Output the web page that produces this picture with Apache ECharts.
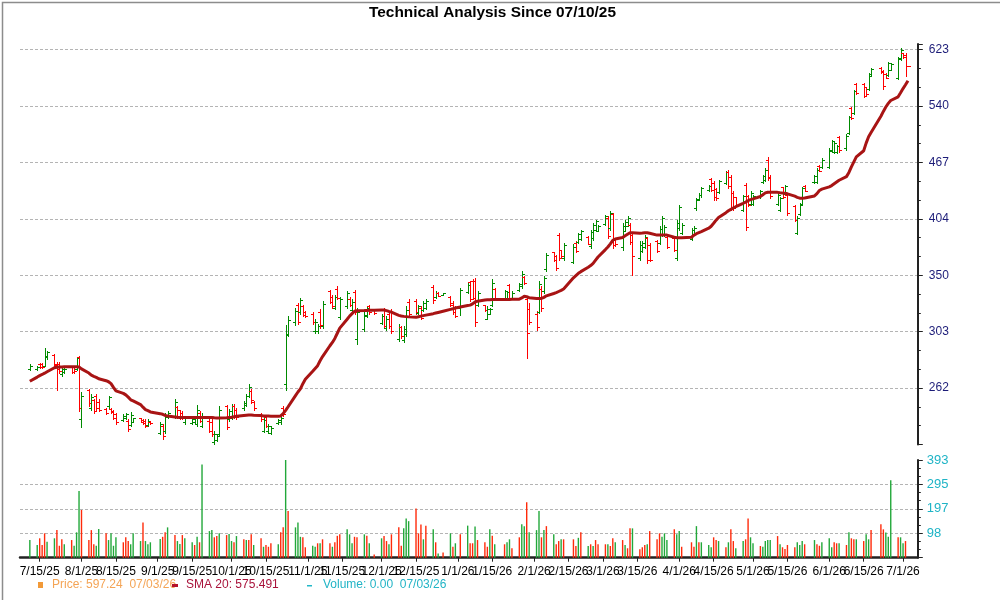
<!DOCTYPE html>
<html>
<head>
<meta charset="utf-8">
<title>Technical Analysis Since 07/10/25</title>
<script src="https://cdn.jsdelivr.net/npm/echarts@6/dist/echarts.min.js"></script>
<style>
  html, body { margin: 0; padding: 0; background: #fff; }
  #chart { width: 1000px; height: 600px; }
</style>
</head>
<body>
<div id="chart"></div>
<script>
// trading calendar: weekdays from first to last bar, minus market holidays
const firstDay = [2025, 7, 11];
const lastDay = [2026, 7, 3];
const holidays = ['2025-09-01', '2025-11-27', '2025-12-25', '2026-01-01', '2026-01-19',
  '2026-02-16', '2026-04-03', '2026-05-25', '2026-06-19'];

// [open, high, low, close], one row per week
const priceBars = [
  [275.0, 278.5, 274.3, 277.0],
  [275.2, 277.2, 274.6, 276.5], [279.0, 279.4, 276.1, 276.8], [278.5, 279.6, 276.1, 276.3], [277.6, 290.0, 277.0, 284.8], [283.5, 288.0, 282.5, 287.0],
  [285.0, 285.6, 276.8, 278.0], [279.0, 280.0, 260.7, 275.0], [279.0, 280.0, 272.5, 274.0], [271.5, 276.0, 270.0, 275.0], [273.0, 275.5, 272.5, 275.0],
  [276.5, 277.0, 272.5, 273.0], [277.0, 277.5, 272.5, 273.5], [275.0, 284.0, 274.6, 283.0], [283.5, 284.5, 247.0, 249.0], [242.0, 259.5, 237.4, 256.5],
  [261.0, 261.6, 250.3, 252.0], [249.0, 258.0, 247.7, 256.0], [254.0, 254.6, 246.0, 247.0], [257.0, 258.0, 247.0, 249.0], [253.0, 254.6, 247.0, 248.0],
  [248.5, 249.0, 245.0, 246.0], [250.0, 256.8, 249.2, 256.0], [248.5, 249.2, 246.0, 246.5], [247.0, 248.0, 242.0, 243.0], [245.0, 246.0, 239.0, 240.0],
  [241.5, 245.0, 240.8, 244.0], [242.5, 246.0, 242.0, 245.0], [241.0, 242.0, 235.0, 236.0], [238.5, 246.2, 237.7, 244.5], [240.5, 243.0, 240.0, 242.5],
  [242.5, 243.0, 240.0, 240.5], [241.5, 242.3, 239.0, 239.5], [241.0, 242.0, 237.0, 238.0], [238.5, 242.0, 238.0, 241.0], [240.5, 241.0, 239.0, 239.5],
  [233.5, 240.0, 232.7, 239.0], [238.0, 239.0, 229.8, 231.5], [235.0, 245.8, 233.7, 244.0], [243.5, 247.0, 243.0, 246.0],
  [244.0, 255.0, 243.0, 253.0], [249.5, 250.3, 243.0, 244.0], [247.5, 248.0, 242.0, 243.0], [246.0, 247.0, 242.0, 242.5], [240.0, 244.0, 239.0, 243.0],
  [239.5, 243.0, 239.0, 242.0], [240.0, 244.0, 239.0, 243.0], [239.0, 250.7, 238.0, 248.0], [246.0, 247.0, 240.0, 241.0], [238.0, 246.0, 237.0, 244.0],
  [241.0, 242.0, 234.0, 235.0], [240.0, 242.0, 232.0, 233.0], [228.0, 234.7, 227.0, 233.0], [229.5, 232.7, 228.7, 232.0], [233.0, 250.3, 232.0, 248.0],
  [250.0, 250.7, 235.8, 237.0], [242.0, 248.5, 241.0, 247.0], [243.0, 251.4, 242.0, 250.0], [250.5, 251.4, 243.0, 244.0], [248.0, 249.0, 242.0, 243.5],
  [249.0, 253.5, 248.0, 252.5], [251.0, 258.0, 250.3, 257.0], [257.0, 264.5, 256.0, 263.0], [260.0, 261.2, 252.5, 254.0], [253.0, 253.5, 248.0, 249.0],
  [245.0, 246.0, 241.0, 242.0], [235.0, 243.0, 234.0, 241.5], [243.5, 244.3, 237.0, 238.0], [234.5, 238.8, 233.8, 237.5], [233.5, 237.8, 232.7, 236.5],
  [239.5, 242.0, 239.0, 241.5], [240.0, 244.0, 239.0, 243.0], [249.0, 250.3, 244.0, 245.0], [265.0, 308.0, 261.0, 300.0], [301.0, 315.0, 299.0, 312.0],
  [310.0, 321.5, 308.0, 319.0], [324.0, 325.7, 308.4, 310.0], [318.0, 330.0, 316.7, 328.0], [323.0, 324.5, 315.2, 316.0], [318.5, 319.4, 314.0, 315.0],
  [317.0, 318.0, 308.4, 310.0], [303.0, 312.3, 302.0, 310.0], [303.0, 308.4, 302.0, 307.0], [318.0, 320.4, 305.7, 308.0], [307.0, 327.3, 305.7, 325.0],
  [336.0, 337.2, 326.0, 327.0], [331.0, 332.8, 321.5, 323.0], [322.0, 332.8, 320.4, 331.0], [338.0, 340.0, 328.7, 330.0], [314.0, 330.5, 312.3, 329.0],
  [323.0, 335.8, 321.5, 334.0], [329.5, 330.5, 323.0, 324.0], [320.0, 329.0, 319.0, 327.0], [335.0, 337.2, 316.5, 318.0], [297.0, 322.0, 293.0, 318.0],
  [305.0, 318.0, 303.5, 316.0], [315.0, 323.0, 314.0, 322.0], [323.5, 324.5, 316.5, 318.0], [320.0, 320.4, 316.5, 317.5],
  [309.5, 316.5, 308.4, 315.0], [320.0, 321.5, 305.7, 307.0], [305.5, 315.2, 304.4, 313.0], [317.0, 318.0, 305.7, 307.0], [319.0, 320.4, 301.8, 303.0],
  [297.0, 308.4, 295.5, 306.0], [306.0, 307.0, 298.0, 299.5], [296.0, 307.0, 294.7, 305.0], [301.0, 323.0, 299.2, 320.0], [327.0, 328.7, 315.2, 317.0],
  [327.5, 328.7, 316.5, 318.0], [317.5, 324.5, 316.5, 323.0], [322.0, 323.0, 312.3, 313.5], [320.0, 327.3, 319.4, 326.0], [321.5, 328.7, 320.4, 327.5],
  [339.0, 340.7, 326.0, 328.0], [331.0, 335.8, 330.2, 334.5], [334.5, 335.0, 331.5, 332.0], [332.5, 334.4, 332.3, 334.0],
  [331.0, 331.5, 323.0, 324.0], [326.0, 327.3, 316.5, 318.0], [322.0, 323.0, 314.0, 315.0], [322.0, 338.6, 316.0, 336.5],
  [335.0, 342.8, 334.2, 341.5], [344.0, 345.0, 327.3, 329.0], [345.0, 346.0, 328.7, 330.0], [345.0, 347.4, 307.0, 310.0], [324.0, 336.0, 323.0, 334.0],
  [324.0, 324.5, 319.4, 320.0], [313.0, 323.0, 312.3, 321.0], [317.0, 321.5, 316.5, 320.5], [324.0, 346.0, 323.0, 343.0], [338.0, 338.6, 328.7, 330.0],
  [329.5, 337.2, 328.7, 336.0], [329.5, 335.8, 328.7, 335.0], [341.0, 341.6, 328.7, 330.0], [329.5, 335.8, 328.7, 334.0],
  [337.0, 343.0, 336.0, 342.0], [340.0, 353.3, 338.6, 351.0], [348.0, 349.0, 341.6, 343.0], [329.0, 330.0, 283.2, 302.0], [321.0, 326.0, 308.4, 310.0],
  [317.0, 319.4, 304.4, 306.0], [318.0, 344.4, 317.5, 342.0], [338.0, 340.0, 319.4, 322.0], [336.0, 349.0, 334.4, 347.0], [355.0, 370.0, 353.3, 368.0],
  [371.0, 371.6, 362.5, 364.0], [367.0, 368.4, 354.9, 356.0], [388.0, 390.0, 364.0, 366.0], [373.0, 373.5, 365.6, 367.0], [366.0, 380.0, 364.0, 378.0],
  [362.0, 378.4, 361.0, 376.0], [380.0, 381.5, 370.8, 372.0], [381.0, 390.0, 380.2, 389.0], [384.0, 393.0, 383.1, 392.0],
  [386.0, 386.5, 378.4, 379.0], [377.0, 393.0, 375.3, 391.0], [385.0, 399.8, 383.1, 398.0], [393.0, 403.2, 391.3, 402.0], [392.0, 398.0, 391.3, 397.0],
  [399.0, 408.4, 398.0, 407.0], [405.0, 406.6, 384.7, 387.0], [395.0, 411.8, 393.0, 410.0], [409.0, 410.0, 375.0, 378.0], [383.0, 385.0, 377.0, 379.0],
  [376.0, 399.8, 373.5, 397.0], [392.0, 403.2, 391.3, 401.0], [397.0, 406.6, 396.3, 405.0], [398.0, 399.8, 378.4, 381.0], [388.0, 390.0, 350.4, 367.0],
  [366.0, 381.5, 364.0, 378.0], [372.0, 381.5, 370.8, 380.0], [376.0, 387.6, 375.0, 386.0], [385.0, 386.0, 361.0, 364.0], [378.0, 380.0, 362.5, 364.0],
  [382.0, 383.1, 370.8, 372.0], [380.0, 396.3, 378.4, 394.0], [388.0, 406.6, 386.5, 405.0], [388.0, 398.0, 386.5, 396.0], [386.0, 387.6, 375.0, 376.0],
  [385.0, 386.0, 372.0, 373.5], [366.0, 403.2, 364.0, 400.0], [395.0, 419.0, 393.0, 417.0], [390.0, 399.8, 388.5, 398.0],
  [384.0, 394.7, 383.1, 393.0], [389.0, 396.3, 388.5, 395.0], [415.0, 426.0, 413.6, 424.0], [425.0, 431.5, 424.3, 430.0], [429.0, 438.9, 427.8, 437.0],
  [434.5, 440.7, 433.5, 439.5], [447.0, 448.5, 433.5, 435.0], [443.0, 444.9, 424.3, 427.0], [436.0, 437.2, 424.3, 426.0], [433.0, 446.6, 431.5, 445.0],
  [443.0, 456.2, 441.5, 455.0], [456.0, 458.1, 437.2, 439.0], [450.0, 452.3, 413.6, 417.0], [432.0, 433.5, 413.6, 415.0], [427.0, 427.8, 417.1, 418.0],
  [413.0, 429.6, 411.8, 428.0], [441.0, 443.1, 393.0, 396.0], [428.0, 429.6, 417.1, 419.0], [420.0, 433.5, 418.9, 432.0], [420.0, 429.6, 418.9, 428.0],
  [427.0, 435.3, 426.0, 434.0], [444.0, 452.3, 443.1, 451.0], [446.0, 460.0, 444.9, 458.0], [470.0, 473.7, 446.6, 449.0], [450.0, 452.3, 426.0, 428.0],
  [420.0, 431.5, 418.9, 430.0], [413.0, 427.8, 411.8, 426.0], [438.0, 438.9, 426.0, 427.0], [431.0, 440.7, 429.6, 439.0], [430.0, 431.5, 408.4, 410.0],
  [418.0, 418.9, 401.5, 403.0], [390.0, 406.6, 388.5, 405.0], [409.0, 420.7, 408.4, 419.0], [420.0, 438.9, 418.9, 437.0], [440.0, 440.7, 433.5, 434.0],
  [444.0, 452.3, 443.1, 451.0], [444.0, 460.0, 443.1, 458.0], [463.0, 463.9, 456.2, 457.0], [461.0, 472.0, 460.0, 470.0],
  [461.0, 484.0, 460.0, 482.0], [481.0, 494.6, 480.0, 493.0], [479.0, 492.5, 477.8, 491.0], [479.0, 488.3, 477.8, 487.0], [498.0, 499.7, 480.0, 482.0],
  [484.0, 501.8, 482.2, 500.0], [503.0, 525.8, 501.8, 524.0], [536.0, 537.5, 521.9, 523.0], [530.0, 562.0, 528.6, 560.0], [570.0, 571.8, 556.3, 558.0],
  [570.0, 571.8, 551.6, 553.0], [566.0, 566.8, 554.7, 556.0], [563.0, 587.0, 562.0, 585.0], [583.0, 594.5, 581.9, 593.0],
  [595.0, 596.6, 586.4, 588.0], [590.0, 591.5, 564.0, 567.0], [585.0, 586.4, 579.0, 580.0], [584.0, 604.0, 581.9, 602.0], [592.0, 601.6, 591.5, 600.0],
  [580.0, 612.0, 578.0, 610.0], [608.0, 625.0, 606.8, 622.0], [617.0, 617.3, 609.5, 611.0], [615.0, 617.3, 581.9, 597.24], [597.24, 597.24, 597.24, 597.24]
];

const sma20 = [
  266.6,
  269.5, 270.5, 271.3, 272.2, 273.2,
  276.0, 276.3, 276.5, 276.6, 276.7,
  276.8, 276.8, 276.7, 276.5, 275.2,
  272.3, 270.8, 270.0, 269.3, 268.3,
  267.0, 266.3, 265.0, 262.5, 260.2,
  258.5, 257.5, 256.0, 254.3, 253.6,
  251.2, 249.5, 248.0, 247.3, 246.5,
  245.4, 245.0, 244.3, 243.9,
  243.3, 243.1, 243.0, 243.0, 243.0,
  243.0, 243.0, 243.0, 243.0, 243.0,
  243.0, 243.0, 242.8, 242.7, 242.7,
  242.8, 243.0, 243.2, 243.5, 243.8,
  244.3, 244.4, 244.5, 244.5, 244.4,
  244.2, 244.0, 244.0, 243.9, 243.8,
  243.8, 244.0, 245.5, 247.5, 249.8,
  257.0, 259.4, 261.5, 265.0, 268.0,
  273.5, 275.5, 277.5, 281.0, 284.0,
  292.0, 294.5, 297.5, 301.5, 305.5,
  312.5, 315.0, 317.0, 319.0, 319.4,
  319.5, 319.6, 319.7, 319.8,
  320.0, 320.0, 319.5, 318.8, 318.2,
  315.6, 315.1, 314.8, 314.6, 314.4,
  314.0, 314.5, 315.0, 315.4, 315.8,
  317.0, 317.5, 318.0, 319.0,
  320.5, 321.0, 321.6, 322.5,
  323.7, 324.0, 325.0, 326.6, 327.3,
  328.2, 328.4, 328.5, 328.6, 328.7,
  328.7, 328.8, 328.8, 328.9,
  329.0, 330.0, 331.4, 331.0, 330.2,
  329.6, 329.6, 329.6, 330.5, 331.8,
  333.8, 334.5, 335.5, 336.5, 337.7,
  347.5, 349.5, 351.5, 353.0,
  357.0, 358.5, 360.5, 363.5, 366.5,
  373.5, 376.0, 379.0, 382.5, 383.8,
  385.3, 387.0, 388.5, 390.0, 390.0,
  389.5, 389.7, 390.0, 390.0, 389.5,
  387.6, 387.6, 387.6, 387.6, 387.6,
  385.5, 385.0, 385.0, 385.0,
  385.5, 387.5, 389.0, 390.0, 391.0,
  394.5, 396.5, 399.5, 402.7, 405.5,
  410.5, 412.5, 414.0, 415.5, 416.8,
  420.5, 421.8, 423.3, 424.5, 425.3,
  427.9, 429.8, 431.8, 432.6, 432.6,
  432.4, 432.0, 431.7, 431.5, 430.8,
  428.2, 427.0, 426.0, 426.0, 426.3,
  428.5, 431.0, 434.5, 436.0,
  438.6, 440.0, 442.0, 444.0, 446.0,
  450.2, 455.0, 461.5, 467.5, 473.5,
  481.0, 490.5, 498.5, 504.0,
  525.5, 532.0, 538.0, 543.0, 547.0,
  552.2, 558.0, 564.0, 569.5, 575.491
];

const volume = [
  71,
  51, 78, 51, 98, 64,
  78, 111, 48, 74, 54,
  71, 48, 102, 268, 192,
  71, 111, 54, 48, 115,
  98, 71, 98, 48, 82,
  62, 82, 67, 54, 98,
  67, 142, 67, 54, 62,
  75, 84, 102, 122,
  91, 67, 55, 91, 78,
  62, 51, 84, 62, 375,
  107, 111, 82, 87, 98,
  91, 95, 67, 62, 87,
  74, 71, 71, 94, 51,
  78, 44, 51, 44, 58,
  54, 102, 122, 393, 188,
  122, 142, 84, 82, 42,
  48, 44, 58, 58, 74,
  58, 44, 62, 88, 94,
  114, 94, 58, 84, 82,
  94, 88, 58, 13,
  78, 87, 67, 54, 94,
  122, 48, 118, 158, 147,
  198, 98, 134, 74, 129,
  114, 62, 17, 21,
  98, 44, 58, 94,
  129, 58, 58, 125, 71,
  62, 44, 114, 88, 54,
  54, 62, 74, 38,
  82, 135, 127, 223, 102,
  111, 188, 82, 111, 127,
  94, 54, 67, 74, 74,
  74, 47, 80, 102,
  47, 54, 47, 71, 54,
  54, 54, 47, 78, 62,
  71, 51, 38, 118, 118,
  34, 42, 51, 54, 107,
  74, 98, 84, 98, 71,
  114, 94, 107, 44,
  62, 44, 127, 62, 62,
  51, 42, 82, 71, 67,
  42, 62, 114, 67, 38,
  67, 74, 158, 82, 58,
  47, 44, 67, 71, 71,
  87, 54, 42, 35, 51,
  42, 62, 51, 67, 54,
  71, 54, 48, 62,
  78, 42, 62, 58, 58,
  51, 102, 78, 74, 74,
  67, 94, 74, 111,
  135, 114, 101, 84, 312,
  82, 82, 58, 67, 0
];

// 1 = green volume bar, 0 = red
const volumeUp = [
  1,
  1, 0, 0, 0, 1,
  1, 0, 0, 0, 1,
  0, 1, 1, 1, 0,
  0, 0, 0, 1, 1,
  0, 1, 1, 1, 1,
  0, 0, 0, 1, 1,
  1, 0, 1, 1, 1,
  1, 0, 0, 1,
  0, 1, 1, 0, 1,
  1, 0, 1, 0, 1,
  1, 1, 0, 0, 1,
  0, 1, 1, 0, 1,
  0, 1, 0, 0, 1,
  0, 1, 0, 0, 0,
  1, 0, 0, 1, 0,
  1, 1, 1, 0, 0,
  1, 1, 0, 1, 0,
  0, 1, 0, 0, 0,
  1, 1, 1, 0, 0,
  1, 0, 1, 0,
  1, 0, 0, 1, 0,
  0, 0, 1, 1, 1,
  0, 0, 0, 1, 0,
  1, 0, 1, 0,
  1, 0, 1, 0,
  1, 0, 0, 1, 0,
  0, 0, 1, 0, 1,
  0, 1, 1, 0,
  0, 1, 1, 0, 1,
  1, 1, 0, 1, 0,
  1, 0, 0, 1, 0,
  0, 0, 1, 0,
  1, 0, 1, 0, 0,
  0, 1, 0, 0, 1,
  0, 1, 0, 0, 1,
  0, 0, 0, 1, 0,
  0, 0, 1, 1, 1,
  0, 1, 1, 0,
  0, 0, 1, 0, 1,
  1, 1, 0, 0, 1,
  0, 1, 0, 0, 1,
  1, 0, 0, 1, 1,
  0, 1, 1, 1, 1,
  0, 1, 0, 0, 0,
  0, 1, 1, 1, 0,
  1, 0, 0, 1,
  1, 1, 0, 0, 1,
  0, 1, 0, 0, 1,
  0, 1, 1, 0,
  0, 0, 1, 1, 1,
  0, 1, 1, 0, 0
];

const yTickLabels = [262, 303, 350, 404, 467, 540, 623];
const volTickLabels = [98, 197, 295, 393];
const xTickLabels = ['7/15/25', '8/1/25', '8/15/25', '9/1/25', '9/15/25', '10/1/25', '10/15/25',
  '11/1/25', '11/15/25', '12/1/25', '12/15/25', '1/1/26', '1/15/26', '2/1/26', '2/15/26', '3/1/26',
  '3/15/26', '4/1/26', '4/15/26', '5/1/26', '5/15/26', '6/1/26', '6/15/26', '7/1/26'];

const upColor = '#008a00';
const downColor = '#ff0000';
const volUpColor = '#22a83a';
const volDownColor = '#ff2a0a';

function pad(n) { return n < 10 ? '0' + n : '' + n; }
function dayKey(d) { return d.getFullYear() + '-' + pad(d.getMonth() + 1) + '-' + pad(d.getDate()); }
function mdy(s) {
  const p = s.split('/').map(Number);
  return new Date(2000 + p[2], p[0] - 1, p[1]).getTime();
}

const dates = [];
for (let d = new Date(firstDay[0], firstDay[1] - 1, firstDay[2]);
     d <= new Date(lastDay[0], lastDay[1] - 1, lastDay[2]);
     d.setDate(d.getDate() + 1)) {
  const dow = d.getDay();
  if (dow !== 0 && dow !== 6 && holidays.indexOf(dayKey(d)) < 0) dates.push(d.getTime());
}
if (dates.length !== priceBars.length || dates.length !== sma20.length ||
    dates.length !== volume.length || dates.length !== volumeUp.length) {
  console.error('length mismatch', dates.length, priceBars.length, sma20.length, volume.length, volumeUp.length);
}

const xMin = new Date(2025, 6, 7).getTime();
const xMax = new Date(2026, 6, 7).getTime();
const xTickValues = xTickLabels.map(mdy);

// price axis is logarithmic: plot ln(price) on a value axis
const yStep = (Math.log(yTickLabels[yTickLabels.length - 1]) - Math.log(yTickLabels[0])) / (yTickLabels.length - 1);
const yMin = Math.log(yTickLabels[0]) - yStep;
const yMax = Math.log(yTickLabels[yTickLabels.length - 1]) + 0.0146;

const ohlcData = dates.map(function (t, i) {
  const b = priceBars[i];
  return [t, Math.log(b[0]), Math.log(b[1]), Math.log(b[2]), Math.log(b[3]), b[3] > b[0] ? 1 : 0];
});
const smaData = dates.map(function (t, i) { return [t, Math.log(sma20[i])]; });
const volData = dates.map(function (t, i) {
  return { value: [t, volume[i]], itemStyle: { color: volumeUp[i] ? volUpColor : volDownColor } };
});

const last = priceBars[priceBars.length - 1][3];
const lastDate = '07/03/26';

const chart = echarts.init(document.getElementById('chart'));
const font = '"Liberation Sans", Arial, sans-serif';

const option = {
  animation: false,
  backgroundColor: '#fff',
  title: {
    text: 'Technical Analysis Since 07/10/25',
    left: 364,
    top: 0,
    textStyle: { fontFamily: font, fontSize: 15.4, fontWeight: 'bold', color: '#000' }
  },
  grid: [
    { left: 20, right: 82.2, top: 44, height: 400.5 },
    { left: 20, right: 82.2, top: 460, height: 97.7 }
  ],
  xAxis: [
    {
      type: 'value', gridIndex: 0, min: xMin, max: xMax,
      axisLine: { show: false }, axisTick: { show: false }, axisLabel: { show: false }, splitLine: { show: false }
    },
    {
      type: 'value', gridIndex: 1, min: xMin, max: xMax,
      axisLine: { show: true, onZero: false, lineStyle: { color: '#222', width: 2.5 } },
      axisTick: { show: true, customValues: xTickValues, length: 4, lineStyle: { color: '#222', width: 1 } },
      axisLabel: {
        show: true, customValues: xTickValues, margin: 8,
        fontFamily: font, fontSize: 12, color: '#000',
        formatter: function (v) {
          let best = 0;
          for (let i = 1; i < xTickValues.length; i++) {
            if (Math.abs(xTickValues[i] - v) < Math.abs(xTickValues[best] - v)) best = i;
          }
          return xTickLabels[best];
        }
      },
      splitLine: { show: false }
    }
  ],
  yAxis: [
    {
      type: 'value', gridIndex: 0, position: 'right', min: yMin, max: yMax, interval: yStep,
      axisLine: { show: true, lineStyle: { color: '#222', width: 2 } },
      axisTick: { show: true, length: 5, lineStyle: { color: '#222' } },
      minorTick: { show: true, splitNumber: 3, length: 3, lineStyle: { color: '#222' } },
      axisLabel: {
        margin: 11, fontFamily: font, fontSize: 12, color: '#1c1c78',
        showMinLabel: false, showMaxLabel: false,
        formatter: function (v) {
          for (let i = 0; i < yTickLabels.length; i++) {
            if (Math.abs(Math.log(yTickLabels[i]) - v) < yStep / 3) return String(yTickLabels[i]);
          }
          return '';
        }
      },
      splitLine: { show: true, showMinLine: false, showMaxLine: false, lineStyle: { color: '#b4b4b4', type: [3, 2], width: 1 } }
    },
    {
      type: 'value', gridIndex: 1, position: 'right', min: 0,
      max: volTickLabels[volTickLabels.length - 1],
      interval: volTickLabels[volTickLabels.length - 1] / volTickLabels.length,
      axisLine: { show: true, lineStyle: { color: '#222', width: 2 } },
      axisTick: { show: true, length: 5, lineStyle: { color: '#222' } },
      minorTick: { show: true, splitNumber: 3, length: 3, lineStyle: { color: '#222' } },
      axisLabel: {
        margin: 9, fontFamily: font, fontSize: 13, color: '#1fb4c6',
        showMinLabel: false,
        formatter: function (v) { return String(Math.round(v)); }
      },
      splitLine: { show: true, showMinLine: false, showMaxLine: false, lineStyle: { color: '#b4b4b4', type: [3, 2], width: 1 } }
    }
  ],
  series: [
    {
      name: 'Price',
      type: 'custom',
      xAxisIndex: 0, yAxisIndex: 0,
      data: ohlcData,
      encode: { x: 0, y: [1, 2, 3, 4] },
      z: 2,
      renderItem: function (params, api) {
        const t = api.value(0);
        const o = api.coord([t, api.value(1)]);
        const h = api.coord([t, api.value(2)]);
        const l = api.coord([t, api.value(3)]);
        const c = api.coord([t, api.value(4)]);
        const color = api.value(5) ? upColor : downColor;
        const px = Math.round(o[0]) + 0.5;
        const oy = Math.round(o[1]) + 0.5;
        const cy = Math.round(c[1]) + 0.5;
        const st = { stroke: color, lineWidth: 1 };
        return {
          type: 'group',
          children: [
            { type: 'line', shape: { x1: px, y1: Math.round(h[1]), x2: px, y2: Math.round(l[1]) + 1 }, style: st },
            { type: 'line', shape: { x1: px - 2.5, y1: oy, x2: px, y2: oy }, style: st },
            { type: 'line', shape: { x1: px, y1: cy, x2: px + 2.5, y2: cy }, style: st }
          ]
        };
      }
    },
    {
      name: 'SMA 20',
      type: 'line',
      xAxisIndex: 0, yAxisIndex: 0,
      data: smaData,
      showSymbol: false,
      z: 3,
      lineStyle: { color: '#a81414', width: 3 }
    },
    {
      name: 'Volume',
      type: 'bar',
      xAxisIndex: 1, yAxisIndex: 1,
      data: volData,
      barWidth: 1.4
    }
  ],
  graphic: [
    { type: 'rect', left: 38, top: 582, shape: { width: 5, height: 6 }, style: { fill: '#f29a38' }, silent: true },
    { type: 'text', left: 52, top: 579, style: { text: 'Price: ' + last.toFixed(2) + '  ' + lastDate, fill: '#f4a455', font: '12px ' + font }, silent: true },
    { type: 'rect', left: 172, top: 584, shape: { width: 6, height: 3 }, style: { fill: '#b4102a' }, silent: true },
    { type: 'text', left: 186, top: 579, style: { text: 'SMA 20: ' + sma20[sma20.length - 1].toFixed(3), fill: '#a8123a', font: '12px ' + font }, silent: true },
    { type: 'rect', left: 307, top: 585, shape: { width: 5, height: 1.5 }, style: { fill: '#22b8c8' }, silent: true },
    { type: 'text', left: 323, top: 579, style: { text: 'Volume: ' + volume[volume.length - 1].toFixed(2) + '  ' + lastDate, fill: '#22b4c6', font: '12px ' + font }, silent: true },
    { type: 'rect', left: 0, top: 0, shape: { x: 0.75, y: 0.75, width: 998.5, height: 598.5 }, style: { fill: 'none', stroke: '#8c8c8c', lineWidth: 1.5 }, silent: true, z: 100 }
  ]
};

chart.setOption(option);
</script>
</body>
</html>
